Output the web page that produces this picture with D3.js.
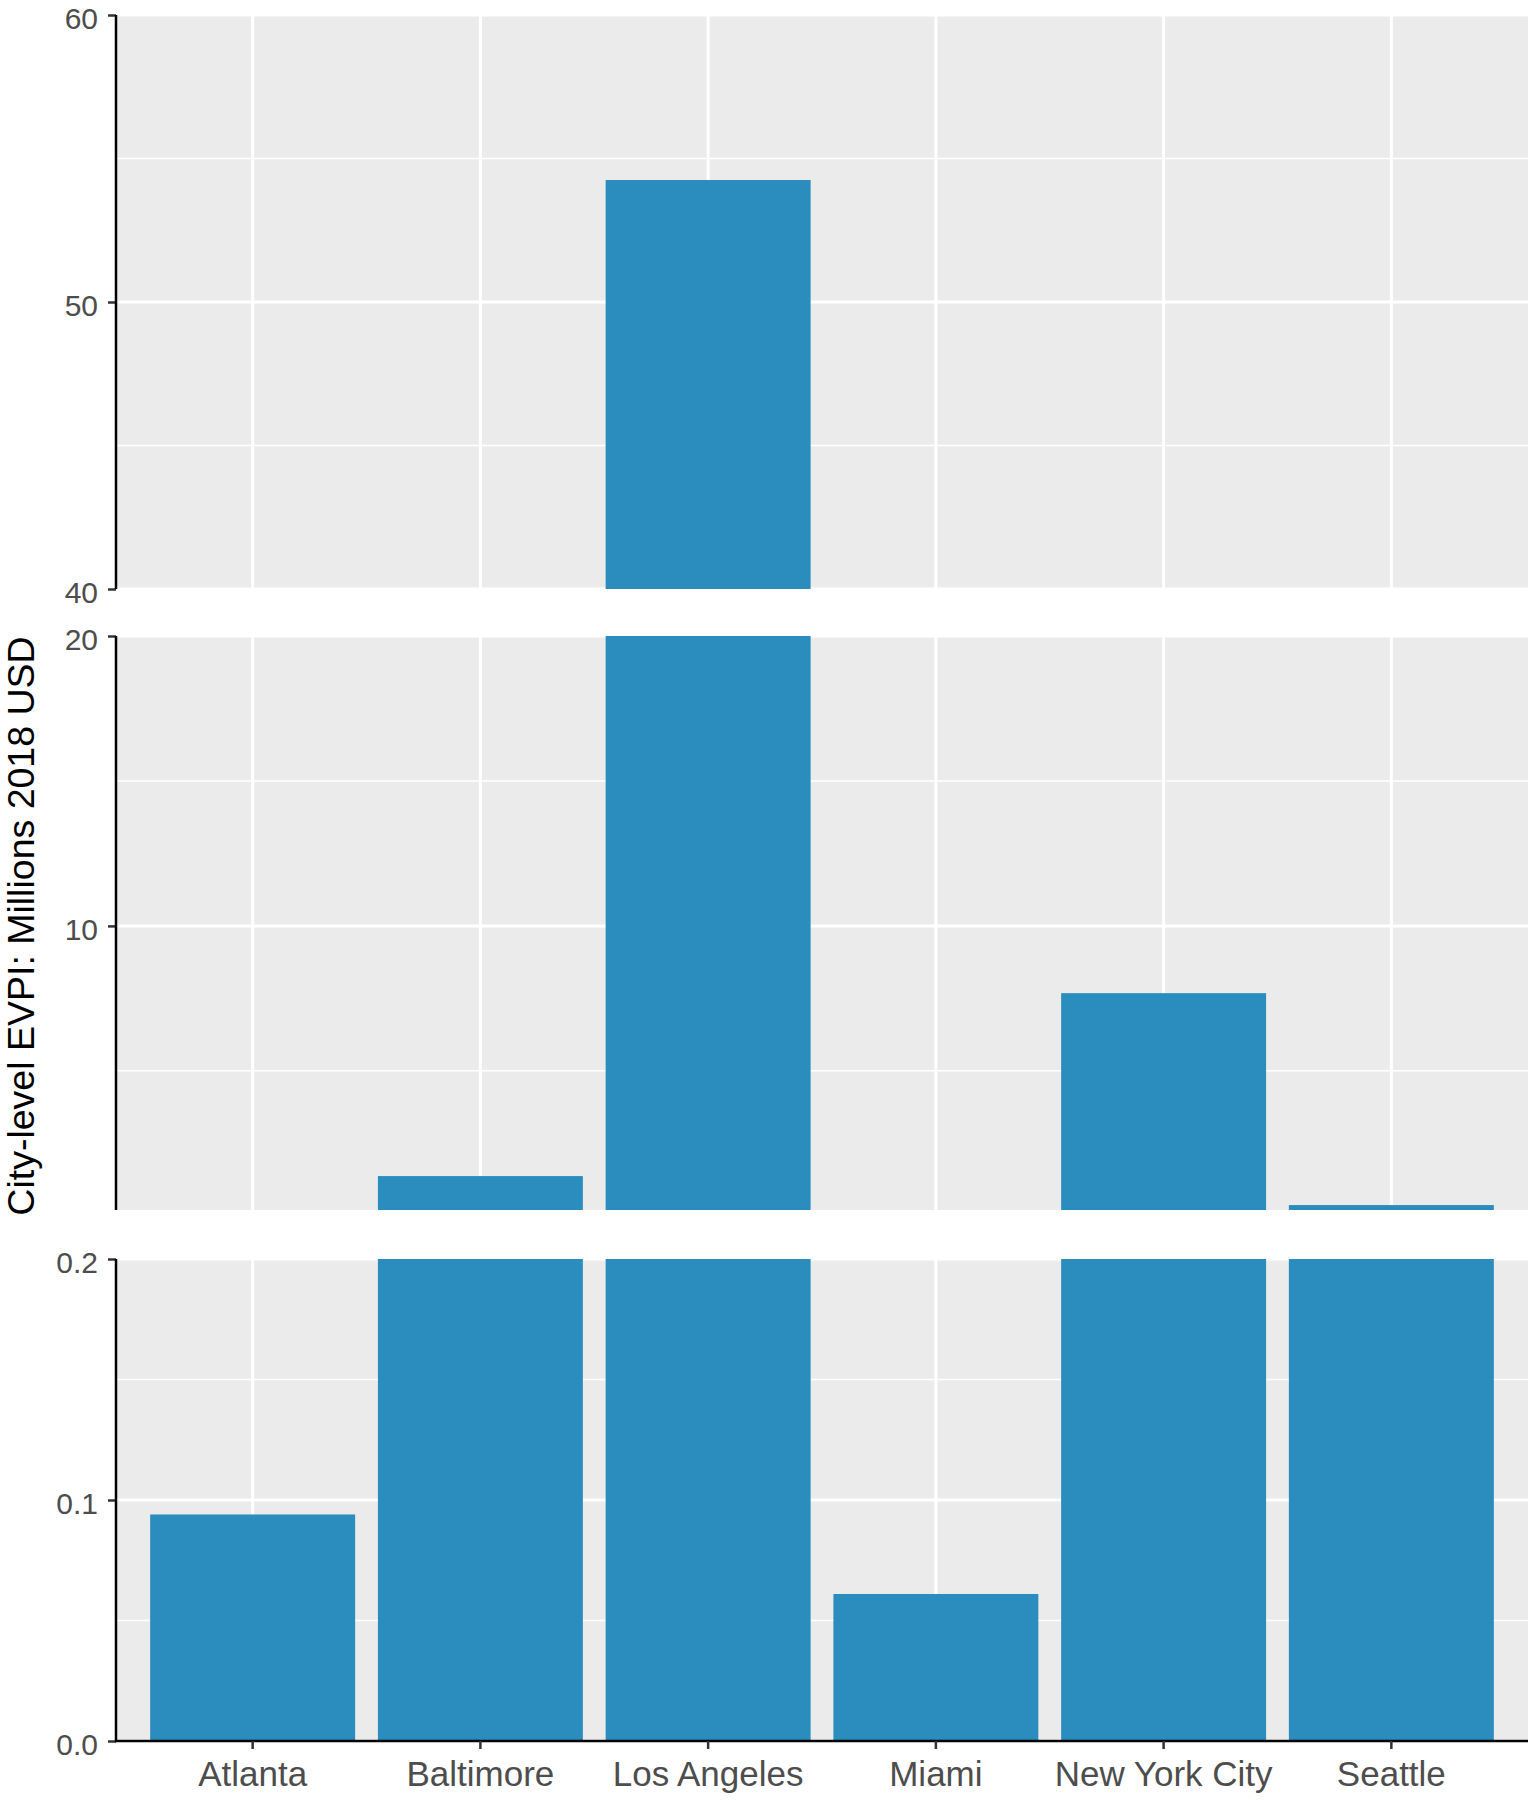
<!DOCTYPE html>
<html>
<head>
<meta charset="utf-8">
<script src="https://cdn.jsdelivr.net/npm/d3@7"></script>
<style>
  body { margin: 0; background: #fff; }
  svg { display: block; font-family: "Liberation Sans", Arial, sans-serif; }
</style>
</head>
<body>
<svg id="chart" width="1537" height="1800"></svg>
<script>
// ---- data ----
const cities = ["Atlanta", "Baltimore", "Los Angeles", "Miami", "New York City", "Seattle"];
const evpi = [0.094, 1.37, 54.25, 0.061, 7.68, 0.37];
const yTitle = "City-level EVPI: Millions 2018 USD";
// broken y axis segments (top to bottom)
const segDomains = [[40, 60], [0.2, 20], [0, 0.2]];
const segMajor = [[40, 50, 60], [10, 20], [0, 0.1, 0.2]];
const segMinor = [[45, 55], [5, 15], [0.05, 0.15]];
const segLabels = [["40", "50", "60"], ["10", "20"], ["0.0", "0.1", "0.2"]];

// ---- layout ----
const svg = d3.select("#chart");
const x0 = 116, x1 = 1528;
const segRanges = [[589, 15], [1210, 636], [1741, 1259]];
const barColor = "#2B8CBE";

const x = d3.scaleBand().domain(cities).range([x0, x1]).paddingInner(0.1).paddingOuter(0.15);
const data = cities.map((c, i) => ({ city: c, value: evpi[i] }));

segDomains.forEach((dom, si) => {
  const rng = segRanges[si];
  const y = d3.scaleLinear().domain(dom).range(rng);
  const g = svg.append("g");
  const top = rng[1], bot = rng[0];
  const clipId = "clip" + si;
  svg.append("clipPath").attr("id", clipId).append("rect")
    .attr("x", x0).attr("y", top).attr("width", x1 - x0).attr("height", bot - top);

  // panel background
  g.append("rect").attr("x", x0).attr("y", top).attr("width", x1 - x0).attr("height", bot - top)
    .attr("fill", "#EBEBEB");

  // minor grid
  g.selectAll(".minor").data(segMinor[si]).join("line")
    .attr("x1", x0).attr("x2", x1).attr("y1", d => y(d)).attr("y2", d => y(d))
    .attr("stroke", "#fff").attr("stroke-width", 1.5);
  // major grid
  g.selectAll(".major").data(segMajor[si]).join("line")
    .attr("x1", x0).attr("x2", x1).attr("y1", d => y(d)).attr("y2", d => y(d))
    .attr("stroke", "#fff").attr("stroke-width", 3);
  // vertical grid
  g.selectAll(".vgrid").data(cities).join("line")
    .attr("x1", d => x(d) + x.bandwidth() / 2).attr("x2", d => x(d) + x.bandwidth() / 2)
    .attr("y1", top).attr("y2", bot)
    .attr("stroke", "#fff").attr("stroke-width", 3);

  // bars
  const barsG = g.append("g").attr("clip-path", `url(#${clipId})`);
  barsG.selectAll("rect").data(data.filter(d => d.value > dom[0])).join("rect")
    .attr("x", d => x(d.city))
    .attr("width", x.bandwidth())
    .attr("y", d => y(Math.min(d.value, dom[1])))
    .attr("height", d => y(dom[0]) - y(Math.min(d.value, dom[1])))
    .attr("fill", barColor);

  // y axis
  const ax = d3.axisLeft(y).tickValues(segMajor[si])
    .tickFormat((d, i) => segLabels[si][i]).tickSize(8).tickPadding(10).tickSizeOuter(0);
  const axG = svg.append("g").attr("transform", `translate(${x0},0)`).call(ax);
  axG.select(".domain").remove();
  axG.append("line").attr("x1", 0).attr("x2", 0).attr("y1", top).attr("y2", bot)
    .attr("stroke", "#000").attr("stroke-width", 2.5);
  axG.selectAll(".tick line").attr("stroke", "#333").attr("stroke-width", 2.5);
  axG.selectAll(".tick text").attr("font-size", 30).attr("fill", "#4D4D4D")
    .attr("dy", "0.44em")
    .attr("font-family", "Liberation Sans, Arial, sans-serif");
});

// x axis
const xAx = d3.axisBottom(x).tickSize(8).tickPadding(12).tickSizeOuter(0);
const xG = svg.append("g").attr("transform", `translate(0,${segRanges[2][0]})`).call(xAx);
xG.select(".domain").attr("stroke", "#000").attr("stroke-width", 2.5)
  .attr("d", `M${x0 - 1},0H${x1}`);
xG.selectAll(".tick line").attr("stroke", "#333").attr("stroke-width", 2.5);
xG.selectAll(".tick text").attr("font-size", 35).attr("fill", "#4D4D4D")
  .attr("font-family", "Liberation Sans, Arial, sans-serif");

// y title
svg.append("text")
  .attr("transform", `translate(34,926) rotate(-90)`)
  .attr("text-anchor", "middle")
  .attr("font-size", 37.5).attr("fill", "#000")
  .text(yTitle);
</script>
</body>
</html>
